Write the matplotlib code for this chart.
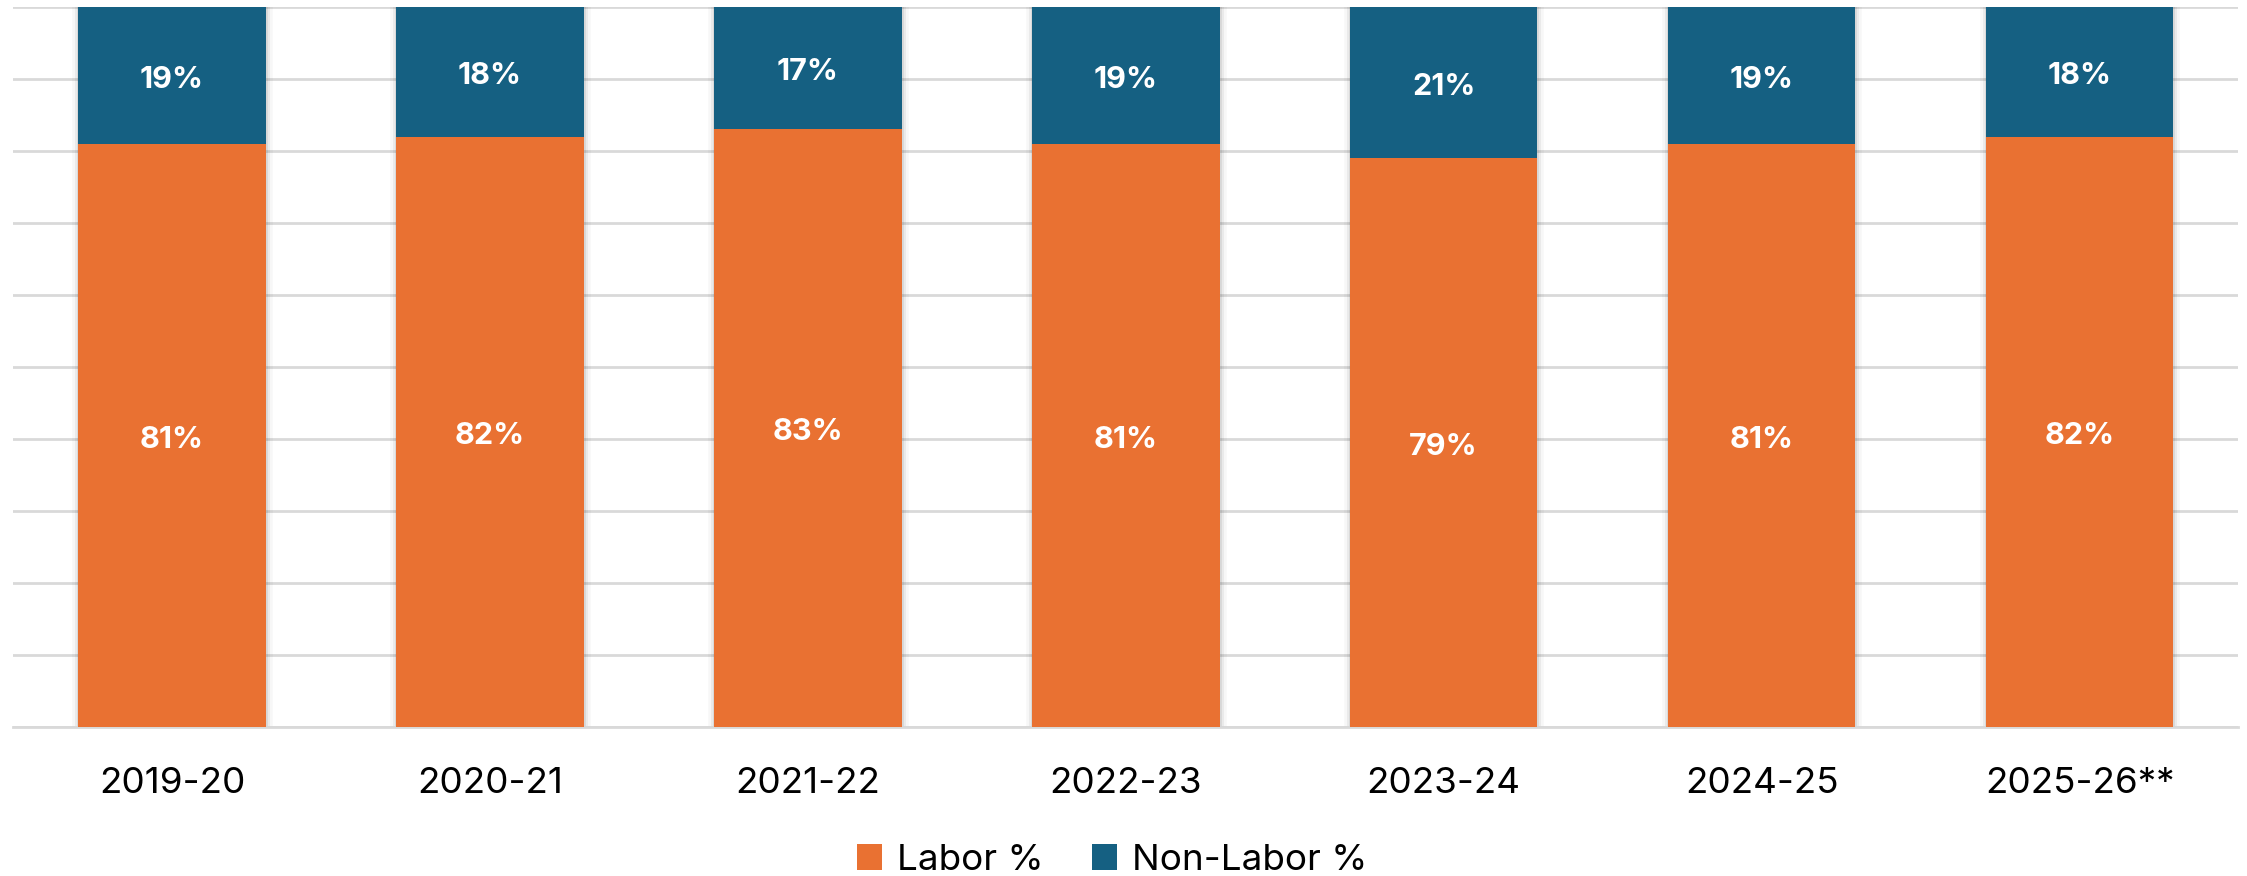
import matplotlib.pyplot as plt
import matplotlib.patheffects as pe
import numpy as np

plt.rcParams['font.family'] = ['Inter', 'DejaVu Sans']

years = ['2019-20', '2020-21', '2021-22', '2022-23', '2023-24', '2024-25', '2025-26**']
labor = [81, 82, 83, 81, 79, 81, 82]
non_labor = [19, 18, 17, 19, 21, 19, 18]

orange = '#E97132'
blue = '#156082'

fig = plt.figure(figsize=(22.47, 8.76), dpi=100)
ax = fig.add_axes([0.0058, 0.170, 0.9904, 0.822])

x = np.arange(len(years))
w = 0.59
total = np.array(labor) + np.array(non_labor)

# soft shadow behind each stacked column
ax.bar(x, total, w, color='white', zorder=2,
       path_effects=[pe.Stroke(linewidth=9, foreground='black', alpha=0.03),
                     pe.Stroke(linewidth=5, foreground='black', alpha=0.05),
                     pe.Stroke(linewidth=2, foreground='black', alpha=0.08),
                     pe.Normal()])
b1 = ax.bar(x, labor, w, color=orange, label='Labor %', zorder=3)
b2 = ax.bar(x, non_labor, w, bottom=labor, color=blue, label='Non-Labor %', zorder=3)

for i in range(len(years)):
    ax.annotate(f'{labor[i]}%', (x[i], labor[i] / 2), xytext=(0, -3), textcoords='offset points',
                ha='center', va='center', color='white', fontsize=22, fontweight='bold', zorder=4)
    ax.annotate(f'{non_labor[i]}%', (x[i], labor[i] + non_labor[i] / 2), xytext=(0, -3),
                textcoords='offset points', ha='center', va='center', color='white',
                fontsize=22, fontweight='bold', zorder=4)

ax.set_xlim(-0.5, len(years) - 0.5)
ax.set_ylim(0, 100)
ax.set_yticks(np.arange(0, 101, 10))
ax.set_yticklabels([])
ax.tick_params(axis='y', length=0)
ax.grid(axis='y', color='#d9d9d9', linewidth=2, zorder=0)
ax.set_axisbelow(True)

ax.set_xticks(x)
ax.set_xticklabels(years, fontsize=26.5)
ax.tick_params(axis='x', length=0, pad=29)

for s in ['top', 'left', 'right']:
    ax.spines[s].set_visible(False)
ax.spines['bottom'].set_color('#d9d9d9')
ax.spines['bottom'].set_linewidth(2)

fig.legend(handles=[b1, b2], loc='center', bbox_to_anchor=(1112 / 2247, 0.018),
           ncol=2, frameon=False, fontsize=26.5, handlelength=0.7, handleheight=0.7,
           handletextpad=0.4, columnspacing=1.3)

fig.savefig('out.png', dpi=100)
